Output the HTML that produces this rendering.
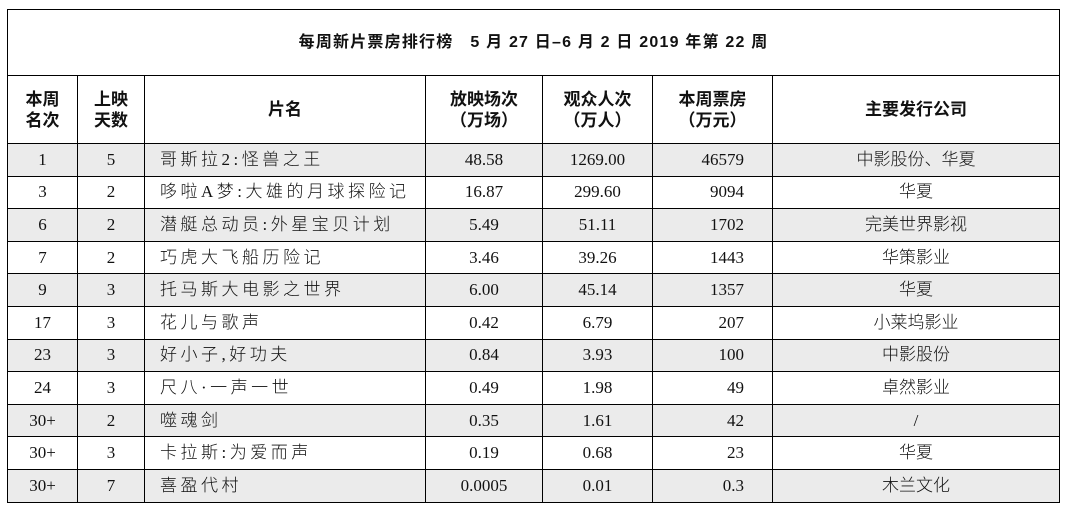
<!DOCTYPE html>
<html><head><meta charset="utf-8"><style>
body{margin:0;background:#fff;width:1066px;height:509px;overflow:hidden}
table{position:absolute;left:7px;top:9px;border-collapse:collapse;width:1052px;table-layout:fixed}
td{border:1.5px solid #000;padding:0;text-align:center;font-family:"Liberation Serif","Noto Sans CJK SC",serif;font-size:17px;color:#111;height:31.6px;line-height:20px;white-space:nowrap}
.t td{height:65px;font-family:"Liberation Sans","Noto Sans CJK SC",sans-serif;font-weight:bold;font-size:16px;letter-spacing:1.2px}
.h td{height:67px;font-family:"Liberation Sans","Noto Sans CJK SC",sans-serif;font-weight:bold;font-size:17px;line-height:21px}
tr.g td{background:#ebebeb}
td.n{text-align:left;padding-left:15px;font-family:"Liberation Serif","Noto Sans CJK SC",sans-serif;font-weight:300;letter-spacing:3.5px}
td.r3{text-align:right;padding-right:28px}
td.c{font-family:"Liberation Serif","Noto Sans CJK SC",sans-serif;font-weight:300}
</style></head><body>
<table>
<colgroup><col style="width:70px"><col style="width:67px"><col style="width:281px"><col style="width:117px"><col style="width:110px"><col style="width:120px"><col style="width:287px"></colgroup>
<tr class="t"><td colspan="7">每周新片票房排行榜&nbsp;&nbsp;&nbsp;5 月 27 日–6 月 2 日 2019 年第 22 周</td></tr>
<tr class="h"><td>本周<br>名次</td><td>上映<br>天数</td><td>片名</td><td>放映场次<br>（万场）</td><td>观众人次<br>（万人）</td><td>本周票房<br>（万元）</td><td>主要发行公司</td></tr>
<tr class="g"><td>1</td><td>5</td><td class="n">哥斯拉2:怪兽之王</td><td>48.58</td><td>1269.00</td><td class="r3">46579</td><td class="c">中影股份、华夏</td></tr>
<tr><td>3</td><td>2</td><td class="n">哆啦A梦:大雄的月球探险记</td><td>16.87</td><td>299.60</td><td class="r3">9094</td><td class="c">华夏</td></tr>
<tr class="g"><td>6</td><td>2</td><td class="n">潜艇总动员:外星宝贝计划</td><td>5.49</td><td>51.11</td><td class="r3">1702</td><td class="c">完美世界影视</td></tr>
<tr><td>7</td><td>2</td><td class="n">巧虎大飞船历险记</td><td>3.46</td><td>39.26</td><td class="r3">1443</td><td class="c">华策影业</td></tr>
<tr class="g"><td>9</td><td>3</td><td class="n">托马斯大电影之世界</td><td>6.00</td><td>45.14</td><td class="r3">1357</td><td class="c">华夏</td></tr>
<tr><td>17</td><td>3</td><td class="n">花儿与歌声</td><td>0.42</td><td>6.79</td><td class="r3">207</td><td class="c">小莱坞影业</td></tr>
<tr class="g"><td>23</td><td>3</td><td class="n">好小子,好功夫</td><td>0.84</td><td>3.93</td><td class="r3">100</td><td class="c">中影股份</td></tr>
<tr><td>24</td><td>3</td><td class="n">尺八·一声一世</td><td>0.49</td><td>1.98</td><td class="r3">49</td><td class="c">卓然影业</td></tr>
<tr class="g"><td>30+</td><td>2</td><td class="n">噬魂剑</td><td>0.35</td><td>1.61</td><td class="r3">42</td><td class="c">/</td></tr>
<tr><td>30+</td><td>3</td><td class="n">卡拉斯:为爱而声</td><td>0.19</td><td>0.68</td><td class="r3">23</td><td class="c">华夏</td></tr>
<tr class="g"><td>30+</td><td>7</td><td class="n">喜盈代村</td><td>0.0005</td><td>0.01</td><td class="r3">0.3</td><td class="c">木兰文化</td></tr>
</table>
</body></html>
